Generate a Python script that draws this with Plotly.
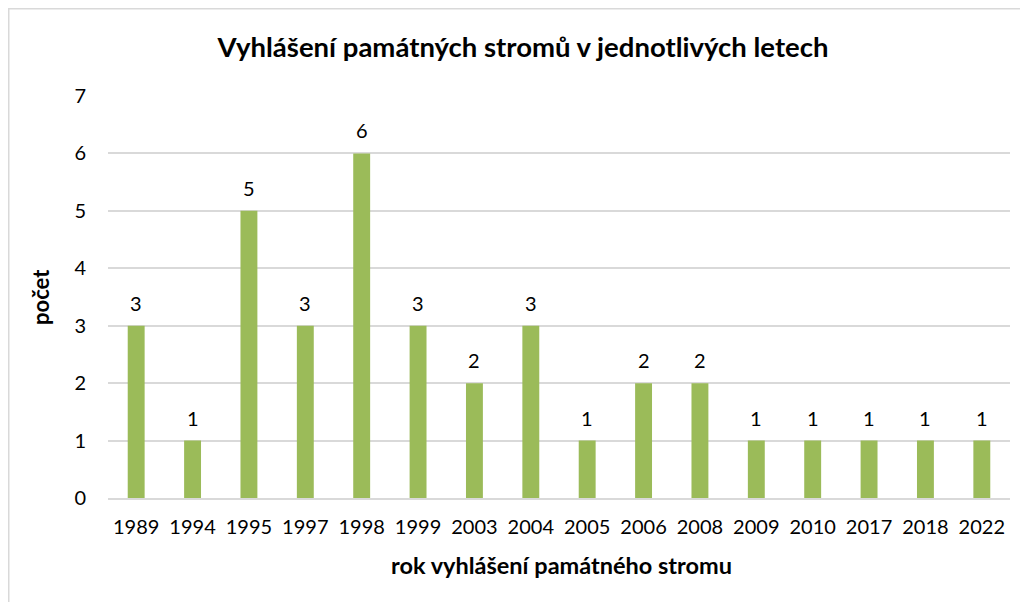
import plotly.graph_objects as go

years = ["1989", "1994", "1995", "1997", "1998", "1999", "2003", "2004",
         "2005", "2006", "2008", "2009", "2010", "2017", "2018", "2022"]
counts = [3, 1, 5, 3, 6, 3, 2, 3, 1, 2, 2, 1, 1, 1, 1, 1]

title_text = "Vyhlášení památných stromů v jednotlivých letech"
x_title = "rok vyhlášení památného stromu"
y_title = "počet"

FONT = "Lato, Carlito, Calibri, sans-serif"
GRID = "#D9D9D9"
TXT = "#000000"

# page is offset by ~8px body margin; figure coords = screen - 8
L, T, PW, PH = 100, 88, 902, 402
W, H = 1028, 602

fig = go.Figure(go.Bar(
    x=years, y=counts,
    marker=dict(color="#9BBB59", line=dict(width=0)),
))

# value labels above bars (category index positions on the category axis)
annotations = [
    dict(x=i, y=c, xref="x", yref="y", text=str(c), showarrow=False,
         yshift=23, yanchor="middle", font=dict(family=FONT, size=20, color=TXT))
    for i, c in enumerate(counts)
]
annotations.append(dict(text=f"<b>{x_title}</b>", xref="paper", yref="paper",
                        x=(553 - L) / PW, y=(T + PH - 557) / PH, showarrow=False,
                        xanchor="center", yanchor="middle",
                        font=dict(family=FONT, size=23.5, color=TXT)))
annotations.append(dict(text=f"<b>{y_title}</b>", xref="paper", yref="paper",
                        x=(32 - L) / PW, y=0.5, showarrow=False, textangle=-90,
                        xanchor="center", yanchor="middle",
                        font=dict(family=FONT, size=22, color=TXT)))

fig.update_layout(
    width=W, height=H,
    margin=dict(l=L, r=W - L - PW, t=T, b=H - T - PH),
    paper_bgcolor="white", plot_bgcolor="white",
    bargap=0.70,
    showlegend=False,
    title=dict(text=title_text, x=515 / W, xref="container", xanchor="center",
               y=1 - 39 / H, yref="container", yanchor="middle",
               font=dict(family=FONT, size=27.5, color=TXT, weight="bold")),
    font=dict(family=FONT, color=TXT),
    xaxis=dict(type="category", range=[-0.5, len(years) - 0.5], autorange=False,
               showgrid=False, showline=True, linecolor=GRID, linewidth=1.5,
               ticks="", tickfont=dict(family=FONT, size=20, color=TXT), ticklabelstandoff=10),
    yaxis=dict(range=[0, 7], dtick=1, showgrid=True, gridcolor=GRID, gridwidth=1.5,
               zeroline=False, showline=False, ticks="",
               tickfont=dict(family=FONT, size=20, color=TXT), ticklabelstandoff=21),
    annotations=annotations,
    shapes=[dict(type="rect", xref="paper", yref="paper",
                 x0=(0.75 - L) / PW, x1=(W + 20 - L) / PW,
                 y0=(T + PH - (H + 20)) / PH, y1=(T + PH - 0.75) / PH,
                 line=dict(color=GRID, width=1.5), fillcolor="rgba(0,0,0,0)", layer="below")],
)

fig.write_html("out.html")
